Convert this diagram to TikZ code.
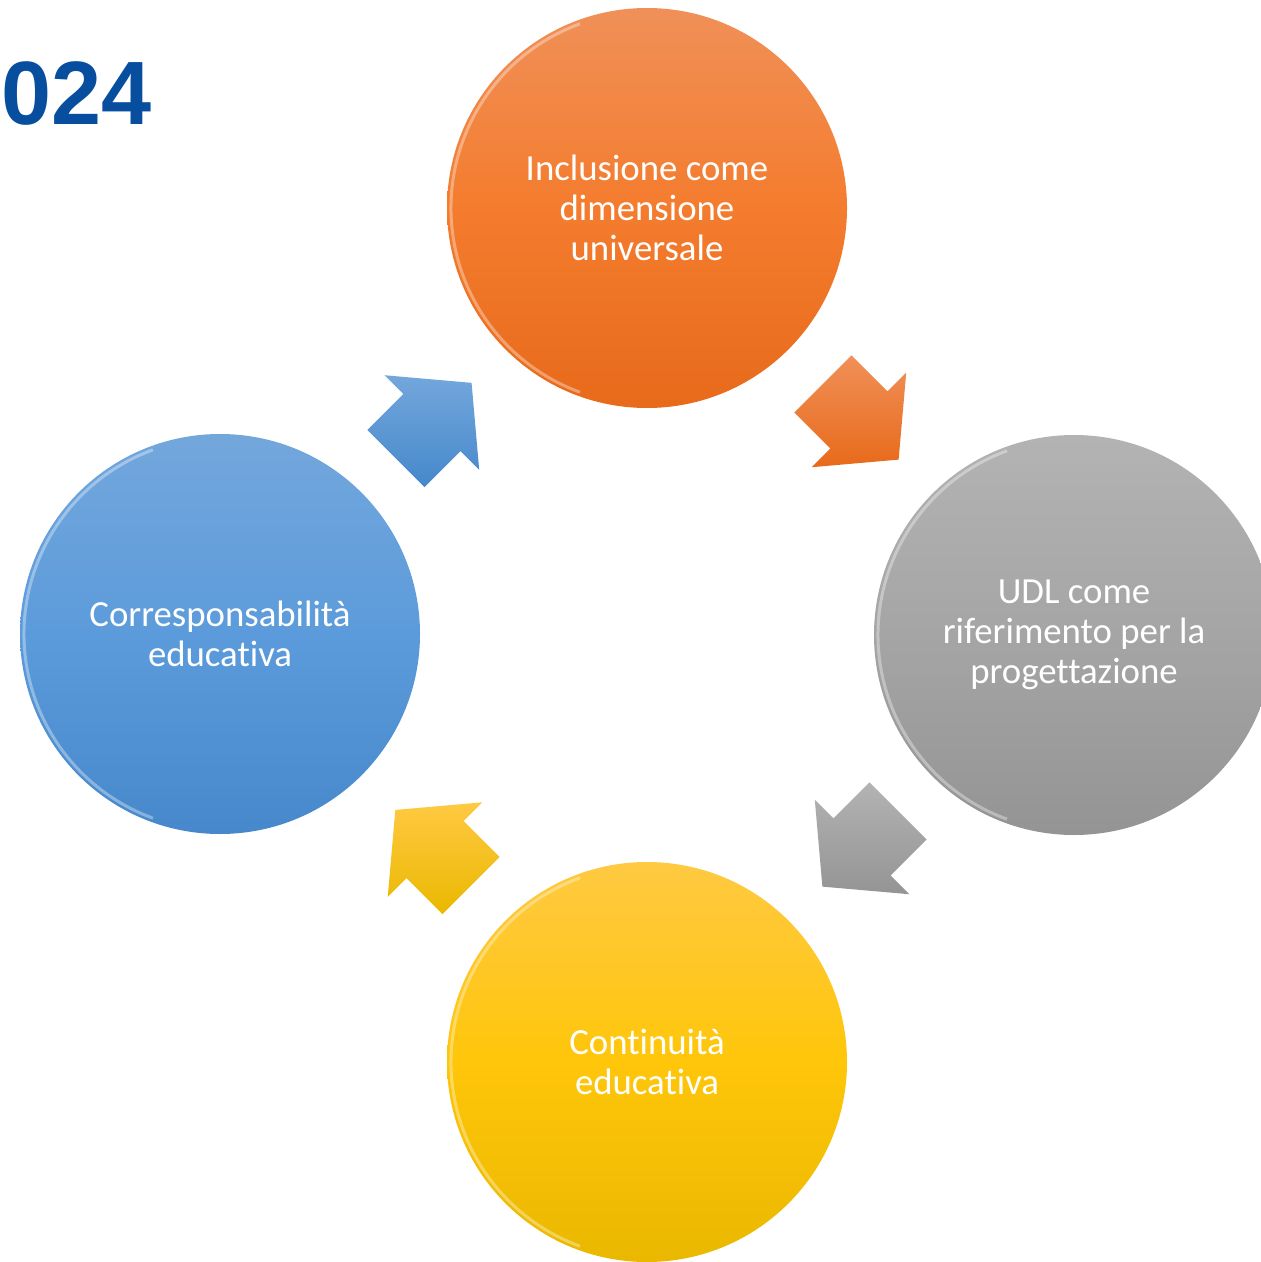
\documentclass[tikz,border=0pt]{standalone}
\usepackage{fontspec}
\setmainfont{Carlito}[Ligatures=NoCommon]
\newfontfamily\yearfont{Liberation Sans}
\usetikzlibrary{calc}
\usetikzlibrary{shapes.arrows}
\definecolor{yearblue}{RGB}{8,78,158}
\definecolor{incltop}{HTML}{F09058} \definecolor{inclmid}{HTML}{F47C2E} \definecolor{inclbot}{HTML}{E86A1B}
\definecolor{udltop}{HTML}{B3B3B3} \definecolor{udlmid}{HTML}{A5A5A5} \definecolor{udlbot}{HTML}{949494}
\definecolor{conttop}{HTML}{FFC942} \definecolor{contmid}{HTML}{FFC60A} \definecolor{contbot}{HTML}{EAB800}
\definecolor{corrtop}{HTML}{73A7DC} \definecolor{corrmid}{HTML}{5C9BDB} \definecolor{corrbot}{HTML}{4688CB}

\begin{document}
\begin{tikzpicture}[x=0.5pt,y=-0.5pt,
	phase/.style={circle, minimum size=200pt, inner sep=0pt, align=center, text=white, font=\fontsize{18.4}{20}\selectfont},
	cyclearrow/.style={single arrow, anchor=tail, minimum height=53.5pt, single arrow head extend=13.25pt, single arrow tip angle=100, inner xsep=0pt, inner ysep=20pt},
	rim/.style={white, opacity=.35, line width=1.5pt}]
	\path[use as bounding box, fill=white] (0,0) rectangle (1261,1262);
	\node [anchor=base west, inner sep=0pt, text=yearblue, font=\yearfont\bfseries\fontsize{45}{45}\selectfont] (0year) at (1,125) {024};
	
	\node [phase, top color=incltop, bottom color=inclbot, middle color=inclmid] at (647,208) (1incl) {Inclusione come\\dimensione\\universale};
	\node [phase, top color=udltop, bottom color=udlbot, middle color=udlmid] at (1074,635) (2udl) {UDL come\\riferimento per la\\progettazione};
	\node [phase, top color=conttop, bottom color=contbot, middle color=contmid] at (647,1062) (3cont) {Continuità\\educativa};
	\node [phase, top color=corrtop, bottom color=corrbot, middle color=corrmid] at (220,634) (4corr) {Corresponsabilità\\educativa};
	
	\draw[rim] (1incl.center) ++(110:98pt) arc[start angle=110, end angle=250, radius=98pt]; \draw[rim] (2udl.center) ++(110:98pt) arc[start angle=110, end angle=250, radius=98pt];
	\draw[rim] (3cont.center) ++(110:98pt) arc[start angle=110, end angle=250, radius=98pt]; \draw[rim] (4corr.center) ++(110:98pt) arc[start angle=110, end angle=250, radius=98pt];
	
	\node [cyclearrow, rotate=-45, top color=incltop, bottom color=inclbot] at ($(1incl)!0.5!(2udl)!26.75pt!(1incl)$) (1to2) {};
	\node [cyclearrow, rotate=-135, top color=udltop, bottom color=udlbot] at ($(2udl)!0.5!(3cont)!26.75pt!(2udl)$) (2to3) {};
	\node [cyclearrow, rotate=135, top color=conttop, bottom color=contbot] at ($(3cont)!0.5!(4corr)!26.75pt!(3cont)$) (3to4) {};
	\node [cyclearrow, rotate=45, top color=corrtop, bottom color=corrbot] at ($(4corr)!0.5!(1incl)!26.75pt!(4corr)$) (4to1) {};
	
\end{tikzpicture}
\end{document}
